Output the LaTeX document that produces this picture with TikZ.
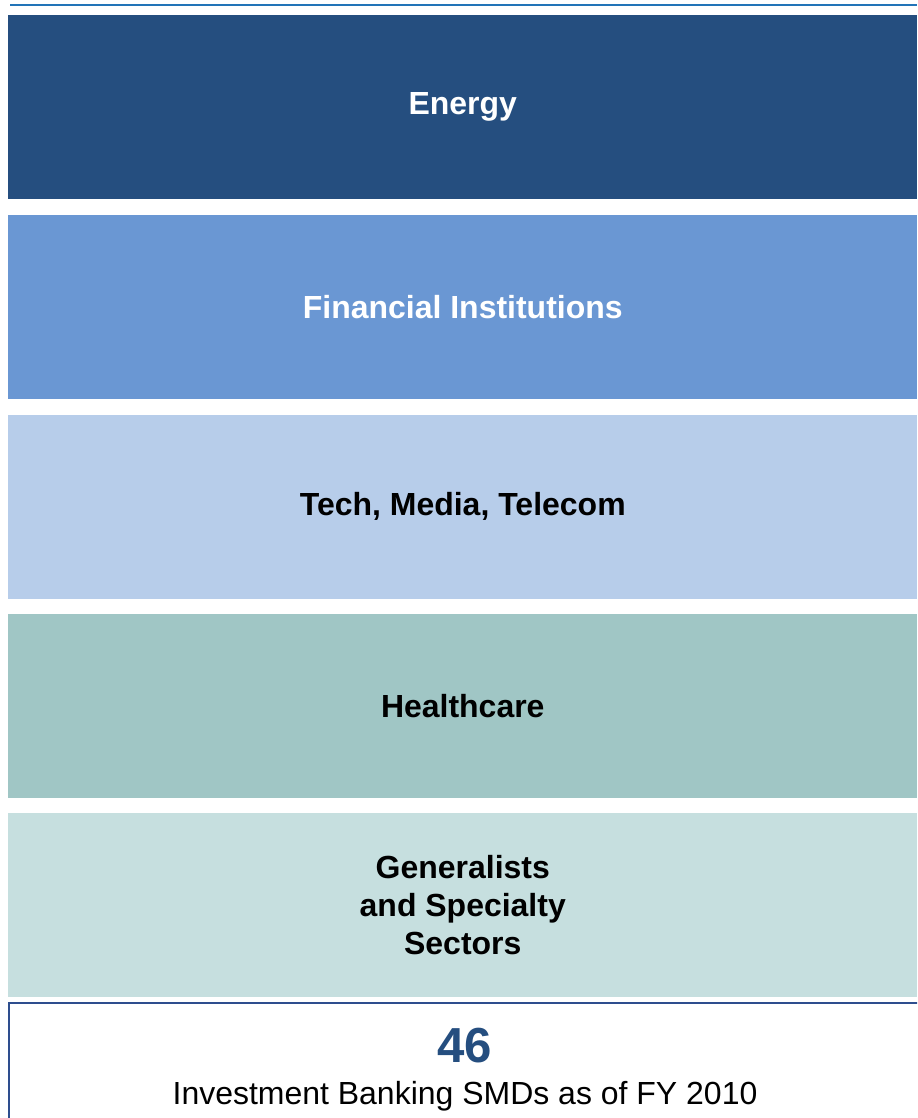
\documentclass[tikz,border=0pt]{standalone}
\usepackage{fontspec}
\setmainfont{Liberation Sans}
\usetikzlibrary{positioning}
\definecolor{energyBlue}{HTML}{254E7F}
\definecolor{finBlue}{HTML}{6A97D3}
\definecolor{techBlue}{HTML}{B7CDEA}
\definecolor{healthTeal}{HTML}{A0C6C5}
\definecolor{genTeal}{HTML}{C6DFDF}
\definecolor{ruleBlue}{HTML}{2274B8}
\definecolor{frameBlue}{HTML}{2E4E8E}

\begin{document}
\begin{tikzpicture}[x=0.02cm, y=-0.02cm,
    band/.style={rectangle, inner sep=0pt, minimum width=18.18cm, minimum height=3.68cm,
                 font=\fontsize{18.2}{21.5}\selectfont\bfseries, align=center}]
    \useasboundingbox (0,0) rectangle (917,1118);
    \clip (0,0) rectangle (917,1118);
    
    % Top rule
    \draw[ruleBlue, line width=1.1pt] (10,5) -- (917,5);
    
    % Sectors
    \node[band, fill=energyBlue, text=white, anchor=north west] (energy) at (8,15) {Energy};
    \node[band, fill=finBlue, text=white, below=0.3cm of energy] (fin) {Financial Institutions};
    \node[band, fill=techBlue, below=0.3cm of fin] (tmt) {Tech, Media, Telecom};
    \node[band, fill=healthTeal, below=0.29cm of tmt] (health) {Healthcare};
    \node[band, fill=genTeal, below=0.29cm of health] (gen) {Generalists\\and Specialty\\Sectors};
    
    % Total
    \draw[frameBlue, line width=1.1pt] (9,1003) rectangle (960,1160);
    \node[energyBlue, font=\fontsize{28}{32}\selectfont\bfseries] (total) at (465,1046) {46};
    \node[font=\fontsize{18.2}{21}\selectfont, below=0.1cm of total] (caption) {Investment Banking SMDs as of FY 2010};
\end{tikzpicture}
\end{document}
